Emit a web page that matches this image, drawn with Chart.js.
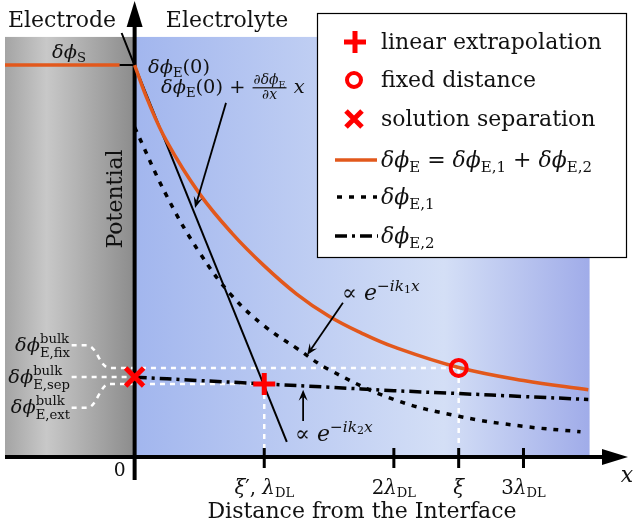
<!DOCTYPE html>
<html>
<head>
<meta charset="utf-8">
<script src="https://cdn.jsdelivr.net/npm/chart.js@4.4.1/dist/chart.umd.min.js"></script>
<style>
  html, body { margin: 0; padding: 0; background: #fff; }
</style>
</head>
<body>
<canvas id="chart" width="634" height="529"></canvas>
<script>
// distance in units of lambda_DL, potential in arbitrary units
const xE = [0, 0.1, 0.25, 0.5, 0.75, 1.0, 1.25, 1.5, 1.75, 2.0, 2.5, 3.0, 3.5];
const phiE = [9.33, 8.5, 7.5, 6.27, 5.33, 4.55, 3.88, 3.35, 2.95, 2.62, 2.13, 1.82, 1.6];
const xE1 = [0, 0.25, 0.5, 0.75, 1.0, 1.25, 1.5, 2.0, 2.5, 3.0, 3.44];
const phiE1 = [7.85, 6.2, 4.87, 3.84, 3.12, 2.59, 2.08, 1.37, 0.97, 0.73, 0.6];
const xE2 = [0, 0.5, 1.0, 1.5, 2.0, 2.5, 3.0, 3.5];
const phiE2 = [1.9, 1.82, 1.74, 1.66, 1.58, 1.51, 1.44, 1.37];
const phiS = 9.33;
const tangentX = [0, 1.174];
const tangentY = [9.33, 0.36];

// bulk estimates
const xExt = 1.0, bulkExt = 1.74;   // linear extrapolation
const xFix = 2.5, bulkFix = 2.12;   // fixed distance
const xSep = 0, bulkSep = 1.905;    // solution separation

const tickVals = [1, 2, 2.5, 3];
const legendNames = ['linear extrapolation', 'fixed distance', 'solution separation'];

const RED = '#ff0000', ORANGE = '#e2581c';
const SERIF = '"DejaVu Serif", serif';
const FS = 22;
const PHI = 'δϕ';

const zip = (xs, ys) => xs.map((v, i) => ({ x: v, y: ys[i] }));

// tiny math text helper
const I = t => ({ t, i: true });
const R = t => ({ t });
const SUB = t => ({ t, s: 0.68, dy: 0.22 });
function fnt(it, size) { return (it.i ? 'italic ' : '') + (size * (it.s || 1)).toFixed(1) + 'px ' + SERIF; }
function runW(ctx, items, size) {
  let w = 0;
  for (const it of items) {
    if (it.frac) w += Math.max(runW(ctx, it.frac[0], size * 0.72), runW(ctx, it.frac[1], size * 0.72)) + 4;
    else if (it.stack) w += Math.max(runW(ctx, it.stack[0], size * 0.68), runW(ctx, it.stack[1], size * 0.68)) + 1;
    else { ctx.font = fnt(it, size); w += ctx.measureText(it.t).width; }
  }
  return w;
}
function runDraw(ctx, items, x, y, size) {
  for (const it of items) {
    if (it.frac) {
      const s = size * 0.72;
      const wn = runW(ctx, it.frac[0], s), wd = runW(ctx, it.frac[1], s);
      const w = Math.max(wn, wd) + 4;
      runDraw(ctx, it.frac[0], x + (w - wn) / 2, y - size * 0.44, s);
      runDraw(ctx, it.frac[1], x + (w - wd) / 2, y + size * 0.3, s);
      ctx.fillRect(x + 1, y - size * 0.3, w - 2, 1.2);
      x += w;
    } else if (it.stack) {
      const s = size * 0.68;
      runDraw(ctx, it.stack[0], x, y - size * 0.42, s);
      runDraw(ctx, it.stack[1], x, y + size * 0.3, s);
      x += Math.max(runW(ctx, it.stack[0], s), runW(ctx, it.stack[1], s)) + 1;
    } else {
      ctx.font = fnt(it, size);
      ctx.fillText(it.t, x, y + (it.dy || 0) * size);
      x += ctx.measureText(it.t).width;
    }
  }
}
function mathText(ctx, items, x, y, size, align) {
  const w = runW(ctx, items, size);
  const x0 = align === 'center' ? x - w / 2 : align === 'right' ? x - w : x;
  ctx.textAlign = 'left';
  ctx.textBaseline = 'alphabetic';
  runDraw(ctx, items, x0, y, size);
}

function arrow(ctx, x1, y1, x2, y2, L, W) {
  const a = Math.atan2(y2 - y1, x2 - x1), c = Math.cos(a), s = Math.sin(a);
  ctx.beginPath();
  ctx.moveTo(x1, y1);
  ctx.lineTo(x2 - c * L * 0.6, y2 - s * L * 0.6);
  ctx.stroke();
  ctx.beginPath();
  ctx.moveTo(x2, y2);
  ctx.lineTo(x2 - L * c + W * s, y2 - L * s - W * c);
  ctx.lineTo(x2 - L * 0.6 * c, y2 - L * 0.6 * s);
  ctx.lineTo(x2 - L * c - W * s, y2 - L * s + W * c);
  ctx.closePath();
  ctx.fill();
}

function plus(ctx, x, y, r, lw) {
  ctx.lineWidth = lw; ctx.strokeStyle = RED; ctx.lineCap = 'butt';
  ctx.beginPath(); ctx.moveTo(x - r, y); ctx.lineTo(x + r, y); ctx.moveTo(x, y - r); ctx.lineTo(x, y + r); ctx.stroke();
}
function cross(ctx, x, y, r, lw) {
  ctx.lineWidth = lw; ctx.strokeStyle = RED; ctx.lineCap = 'butt';
  ctx.beginPath(); ctx.moveTo(x - r, y - r); ctx.lineTo(x + r, y + r); ctx.moveTo(x + r, y - r); ctx.lineTo(x - r, y + r); ctx.stroke();
}
function ring(ctx, x, y, r, lw) {
  ctx.lineWidth = lw; ctx.strokeStyle = RED;
  ctx.beginPath(); ctx.arc(x, y, r, 0, Math.PI * 2); ctx.stroke();
}

const diagram = {
  id: 'diagram',
  beforeDatasetsDraw(chart) {
    const { ctx, scales: { x, y } } = chart;
    const X = v => x.getPixelForValue(v), Y = v => y.getPixelForValue(v);
    ctx.save();
    // electrode / electrolyte backgrounds
    const top = Y(10.0), yb = Y(0), xl = X(-1), x0 = X(0), xr = X(3.51);
    let g = ctx.createLinearGradient(xl, 0, x0, 0);
    g.addColorStop(0, '#a4a4a4');
    g.addColorStop(0.32, '#c8c8c8');
    g.addColorStop(1, '#8c8c8c');
    ctx.fillStyle = g;
    ctx.fillRect(xl, top, x0 - xl, yb - top);
    g = ctx.createLinearGradient(x0, 0, xr, 0);
    g.addColorStop(0, '#a2b6ee');
    g.addColorStop(0.68, '#d4dff6');
    g.addColorStop(1, '#a0ace9');
    ctx.fillStyle = g;
    ctx.fillRect(x0, top, xr - x0, yb - top);

    // white dashed guides
    ctx.strokeStyle = '#fff';
    ctx.lineWidth = 2.5;
    ctx.setLineDash([5, 5]);
    const a = X(-0.486), b = X(-0.37), c = X(-0.193);
    ctx.beginPath();
    ctx.moveTo(a, Y(2.66)); ctx.lineTo(b, Y(2.66));
    ctx.bezierCurveTo(X(-0.29), Y(2.66), X(-0.27), Y(bulkFix), c, Y(bulkFix));
    ctx.lineTo(X(xFix), Y(bulkFix));
    ctx.moveTo(a, Y(bulkSep)); ctx.lineTo(X(xSep) - 8, Y(bulkSep));
    ctx.moveTo(a, Y(1.17)); ctx.lineTo(b, Y(1.17));
    ctx.bezierCurveTo(X(-0.29), Y(1.17), X(-0.27), Y(bulkExt), c, Y(bulkExt));
    ctx.lineTo(X(xExt), Y(bulkExt));
    ctx.moveTo(X(xExt), Y(bulkExt)); ctx.lineTo(X(xExt), yb);
    ctx.moveTo(X(xFix), Y(bulkFix)); ctx.lineTo(X(xFix), yb);
    ctx.stroke();
    ctx.setLineDash([]);

    // axes
    ctx.strokeStyle = '#000';
    ctx.fillStyle = '#000';
    ctx.lineWidth = 4;
    ctx.beginPath();
    ctx.moveTo(x0, yb + 23); ctx.lineTo(x0, 22);
    ctx.moveTo(xl, yb); ctx.lineTo(610, yb);
    ctx.stroke();
    ctx.beginPath(); ctx.moveTo(x0, 1); ctx.lineTo(x0 - 8, 27); ctx.lineTo(x0 + 8, 27); ctx.closePath(); ctx.fill();
    ctx.beginPath(); ctx.moveTo(628, yb); ctx.lineTo(602, yb - 8); ctx.lineTo(602, yb + 8); ctx.closePath(); ctx.fill();
    ctx.lineWidth = 3;
    ctx.beginPath();
    tickVals.forEach(v => { ctx.moveTo(X(v), yb - 9); ctx.lineTo(X(v), yb + 11); });
    ctx.stroke();

    // surface potential level and pointer
    ctx.strokeStyle = ORANGE; ctx.lineWidth = 3.5;
    ctx.beginPath(); ctx.moveTo(xl, Y(phiS)); ctx.lineTo(x0 - 15, Y(phiS)); ctx.stroke();
    ctx.strokeStyle = '#000'; ctx.lineWidth = 2;
    ctx.beginPath(); ctx.moveTo(x0 - 15, Y(phiS)); ctx.lineTo(x0, Y(phiS));
    ctx.moveTo(x0 - 13, 33); ctx.lineTo(x0 - 1, Y(phiS) - 2); ctx.stroke();
    ctx.restore();
  },
  afterDatasetsDraw(chart) {
    const { ctx, scales: { x, y } } = chart;
    const X = v => x.getPixelForValue(v), Y = v => y.getPixelForValue(v);
    ctx.save();

    // red markers
    plus(ctx, X(xExt), Y(bulkExt), 11, 5);
    ring(ctx, X(xFix), Y(bulkFix), 8, 4);
    cross(ctx, X(xSep), Y(bulkSep), 9, 5);

    // annotation arrows
    ctx.fillStyle = '#000';
    ctx.strokeStyle = '#000';
    ctx.lineWidth = 1.8;
    arrow(ctx, X(0.705), Y(8.43), X(0.466), Y(5.93), 11, 4.5);
    arrow(ctx, X(1.607), Y(3.67), X(1.331), Y(2.43), 11, 4.5);
    arrow(ctx, X(1.30), Y(0.857), X(1.30), Y(1.6), 11, 4.5);

    // texts
    ctx.fillStyle = '#111';
    mathText(ctx, [R('Electrode')], 62, 27, FS, 'center');
    mathText(ctx, [R('Electrolyte')], 227, 27, FS, 'center');
    mathText(ctx, [I(PHI), SUB('S')], 69, 58, FS * 0.88, 'center');
    mathText(ctx, [I(PHI), SUB('E'), R('(0)')], 148, 73, FS * 0.88, 'left');
    mathText(ctx, [I(PHI), SUB('E'), R('(0) + '),
      { frac: [[R('∂'), I(PHI), SUB('E')], [R('∂'), I('x')]] }, I(' x')], 161, 93, FS * 0.88, 'left');
    const SUP = (t, it) => ({ t, s: 0.7, dy: -0.42, i: it });
    mathText(ctx, [R('∝ '), I('e'), SUP('−', false), SUP('ik', true), { t: '1', s: 0.5, dy: -0.3 }, SUP('x', true)], 342, 300, FS, 'left');
    mathText(ctx, [R('∝ '), I('e'), SUP('−', false), SUP('ik', true), { t: '2', s: 0.5, dy: -0.3 }, SUP('x', true)], 295, 441, FS, 'left');
    mathText(ctx, [I(PHI), { stack: [[R('bulk')], [R('E,fix')]] }], 71, 351, FS * 0.88, 'right');
    mathText(ctx, [I(PHI), { stack: [[R('bulk')], [R('E,sep')]] }], 71, 383, FS * 0.88, 'right');
    mathText(ctx, [I(PHI), { stack: [[R('bulk')], [R('E,ext')]] }], 71, 413, FS * 0.88, 'right');

    // tick labels
    const DL = { t: 'DL', s: 0.66, dy: 0.15 };
    const tickText = [
      [I('ξ'), R('′, '), I('λ'), DL],
      [R('2'), I('λ'), DL],
      [I('ξ')],
      [R('3'), I('λ'), DL]
    ];
    tickVals.forEach((v, i) => mathText(ctx, tickText[i], X(v), 494, FS * 0.9, 'center'));
    mathText(ctx, [R('0')], X(0) - 15, 476, FS * 0.85, 'center');
    mathText(ctx, [I('x')], 627, 482, FS, 'center');
    mathText(ctx, [R('Distance from the Interface')], 362, 518, FS, 'center');
    ctx.save();
    ctx.translate(122, 199);
    ctx.rotate(-Math.PI / 2);
    mathText(ctx, [R('Potential')], 0, 0, FS, 'center');
    ctx.restore();

    // legend
    ctx.fillStyle = '#fff';
    ctx.fillRect(317, 13, 310, 245);
    ctx.strokeStyle = '#000'; ctx.lineWidth = 1.2;
    ctx.strokeRect(317.5, 13.5, 309, 244);
    plus(ctx, 355, 42, 11, 5);
    ring(ctx, 354, 80, 7, 4);
    cross(ctx, 354, 119, 8, 5);
    ctx.lineWidth = 3.5; ctx.strokeStyle = ORANGE;
    ctx.beginPath(); ctx.moveTo(335, 160); ctx.lineTo(377, 160); ctx.stroke();
    ctx.strokeStyle = '#000'; ctx.lineWidth = 3.5;
    ctx.setLineDash([5, 7]);
    ctx.beginPath(); ctx.moveTo(337, 197); ctx.lineTo(377, 197); ctx.stroke();
    ctx.setLineDash([12, 5, 3, 5]);
    ctx.beginPath(); ctx.moveTo(335, 236); ctx.lineTo(378, 236); ctx.stroke();
    ctx.setLineDash([]);
    ctx.fillStyle = '#111';
    legendNames.forEach((n, i) => mathText(ctx, [R(n)], 381, [49, 87, 126][i], FS, 'left'));
    mathText(ctx, [I(PHI), SUB('E'), R(' = '), I(PHI), SUB('E,1'), R(' + '), I(PHI), SUB('E,2')], 381, 167, FS, 'left');
    mathText(ctx, [I(PHI), SUB('E,1')], 381, 204, FS, 'left');
    mathText(ctx, [I(PHI), SUB('E,2')], 381, 243, FS, 'left');
    ctx.restore();
  }
};

new Chart(document.getElementById('chart'), {
  type: 'line',
  data: {
    datasets: [
      { data: zip(xE, phiE), borderColor: ORANGE, borderWidth: 3.5, tension: 0.4 },
      { data: zip(tangentX, tangentY), borderColor: '#000', borderWidth: 2 },
      { data: zip(xE2, phiE2), borderColor: '#000', borderWidth: 3.5, borderDash: [12, 5, 3, 5], tension: 0.4 },
      { data: zip(xE1, phiE1), borderColor: '#000', borderWidth: 3.5, borderDash: [5, 7], tension: 0.4 }
    ]
  },
  options: {
    responsive: false,
    animation: false,
    layout: { padding: { left: 5, right: 12, top: 5, bottom: 72 } },
    scales: {
      x: { type: 'linear', min: -1, max: 3.76, display: false },
      y: { type: 'linear', min: 0, max: 10.76, display: false }
    },
    elements: { point: { radius: 0 } },
    plugins: { legend: { display: false }, tooltip: { enabled: false } }
  },
  plugins: [diagram]
});
</script>
</body>
</html>
